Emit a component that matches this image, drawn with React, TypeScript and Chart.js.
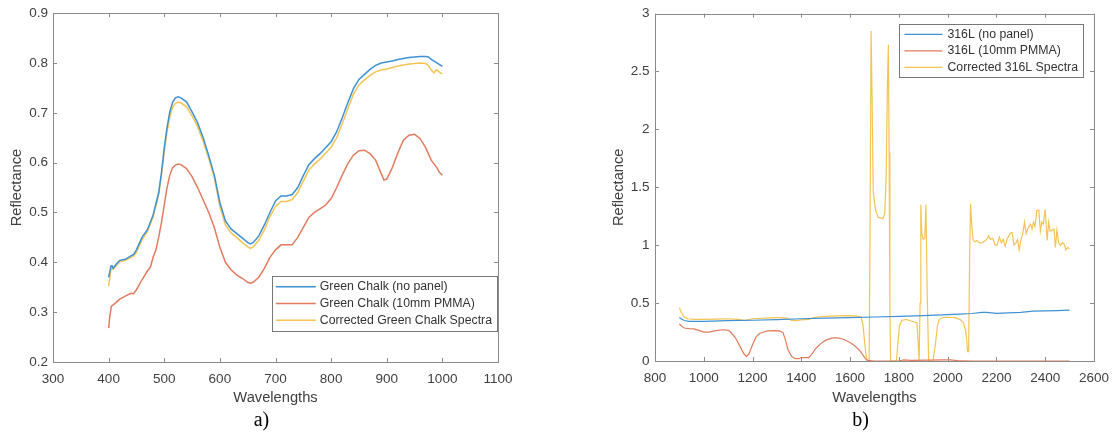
import React, { useEffect, useRef } from 'react';
import { Chart, registerables } from 'chart.js';

Chart.register(...registerables);

// ---------- Data: panel a) Green chalk ----------
const chalkNoPanelX = [400, 402, 404, 406, 408, 410, 415, 420, 430, 440, 445, 450, 460, 470, 480, 490, 495, 500, 505, 510, 515, 520, 525, 530, 540, 550, 560, 570, 580, 590, 600, 610, 620, 630, 640, 650, 655, 660, 670, 680, 690, 700, 710, 720, 730, 740, 750, 760, 770, 780, 790, 800, 810, 820, 830, 840, 850, 860, 870, 880, 890, 900, 910, 920, 930, 940, 950, 960, 970, 975, 980, 990, 1000];
const chalkNoPanelY = [0.370, 0.380, 0.392, 0.393, 0.388, 0.391, 0.398, 0.404, 0.406, 0.413, 0.416, 0.425, 0.450, 0.466, 0.495, 0.540, 0.580, 0.630, 0.670, 0.702, 0.721, 0.730, 0.732, 0.730, 0.722, 0.702, 0.680, 0.650, 0.614, 0.575, 0.520, 0.483, 0.467, 0.458, 0.449, 0.440, 0.437, 0.440, 0.453, 0.475, 0.500, 0.523, 0.533, 0.533, 0.536, 0.550, 0.574, 0.596, 0.608, 0.618, 0.630, 0.642, 0.662, 0.690, 0.720, 0.748, 0.767, 0.777, 0.787, 0.795, 0.800, 0.802, 0.804, 0.807, 0.809, 0.811, 0.812, 0.813, 0.813, 0.812, 0.807, 0.800, 0.793];

const chalkPmmaX = [400, 402, 405, 410, 420, 430, 440, 445, 450, 460, 470, 475, 480, 485, 490, 495, 500, 505, 510, 515, 520, 525, 530, 540, 550, 560, 570, 580, 590, 600, 610, 620, 630, 640, 650, 655, 660, 670, 680, 690, 700, 710, 720, 730, 740, 750, 760, 770, 780, 790, 800, 810, 820, 830, 840, 850, 860, 870, 880, 890, 895, 900, 910, 920, 930, 940, 950, 960, 970, 980, 990, 995, 1000];
const chalkPmmaY = [0.268, 0.290, 0.312, 0.316, 0.326, 0.332, 0.338, 0.337, 0.345, 0.365, 0.383, 0.390, 0.410, 0.425, 0.450, 0.480, 0.515, 0.550, 0.575, 0.590, 0.595, 0.597, 0.596, 0.588, 0.572, 0.550, 0.525, 0.500, 0.470, 0.430, 0.400, 0.385, 0.375, 0.368, 0.360, 0.358, 0.360, 0.370, 0.388, 0.410, 0.425, 0.435, 0.435, 0.435, 0.450, 0.470, 0.490, 0.500, 0.507, 0.515, 0.528, 0.550, 0.575, 0.598, 0.615, 0.624, 0.625, 0.618, 0.605, 0.578, 0.565, 0.567, 0.590, 0.620, 0.645, 0.655, 0.657, 0.648, 0.630, 0.605, 0.590, 0.580, 0.575];

const chalkCorrectedX = [400, 402, 404, 406, 408, 410, 415, 420, 430, 440, 445, 450, 460, 470, 480, 490, 495, 500, 505, 510, 515, 520, 525, 530, 540, 550, 560, 570, 580, 590, 600, 610, 620, 630, 640, 650, 655, 660, 670, 680, 690, 700, 710, 720, 730, 740, 750, 760, 770, 780, 790, 800, 810, 820, 830, 840, 850, 860, 870, 880, 890, 900, 910, 920, 930, 940, 950, 960, 970, 975, 980, 985, 988, 990, 995, 1000];
const chalkCorrectedY = [0.352, 0.368, 0.385, 0.388, 0.386, 0.388, 0.395, 0.401, 0.404, 0.410, 0.413, 0.420, 0.445, 0.462, 0.492, 0.536, 0.575, 0.622, 0.662, 0.692, 0.711, 0.719, 0.721, 0.720, 0.712, 0.694, 0.672, 0.643, 0.608, 0.570, 0.512, 0.475, 0.459, 0.450, 0.440, 0.431, 0.428, 0.431, 0.444, 0.465, 0.492, 0.512, 0.522, 0.522, 0.526, 0.540, 0.563, 0.585, 0.597, 0.607, 0.619, 0.631, 0.650, 0.678, 0.708, 0.737, 0.756, 0.766, 0.775, 0.782, 0.786, 0.788, 0.791, 0.794, 0.796, 0.798, 0.799, 0.800, 0.799, 0.795, 0.786, 0.780, 0.785, 0.786, 0.781, 0.778];

// ---------- Data: panel b) 316L ----------
const steelNoPanelX = [900, 910, 920, 940, 1000, 1100, 1200, 1300, 1400, 1500, 1600, 1700, 1800, 1900, 2000, 2050, 2100, 2140, 2160, 2200, 2250, 2300, 2350, 2400, 2450, 2500];
const steelNoPanelY = [0.375, 0.360, 0.350, 0.342, 0.343, 0.348, 0.352, 0.358, 0.365, 0.370, 0.375, 0.380, 0.385, 0.392, 0.400, 0.405, 0.410, 0.420, 0.420, 0.412, 0.415, 0.420, 0.430, 0.432, 0.435, 0.440];

const steelPmmaX = [900, 910, 920, 940, 960, 980, 1000, 1020, 1050, 1080, 1100, 1110, 1130, 1150, 1165, 1175, 1185, 1200, 1215, 1230, 1260, 1290, 1310, 1325, 1335, 1345, 1360, 1375, 1390, 1400, 1430, 1440, 1460, 1480, 1500, 1530, 1550, 1570, 1600, 1620, 1640, 1660, 1670, 1700, 1800, 1820, 1850, 1990, 2010, 2040, 2100, 2500];
const steelPmmaY = [0.320, 0.300, 0.285, 0.280, 0.278, 0.265, 0.250, 0.250, 0.262, 0.270, 0.265, 0.250, 0.200, 0.120, 0.060, 0.040, 0.060, 0.140, 0.210, 0.240, 0.260, 0.262, 0.260, 0.245, 0.180, 0.100, 0.040, 0.020, 0.020, 0.030, 0.030, 0.050, 0.110, 0.150, 0.180, 0.200, 0.200, 0.190, 0.160, 0.130, 0.090, 0.030, 0.005, 0.000, 0.000, 0.010, 0.005, 0.010, 0.010, 0.003, 0.000, 0.000];

const steelCorrectedX = [900, 910, 920, 935, 960, 1000, 1050, 1100, 1140, 1165, 1180, 1200, 1250, 1300, 1320, 1340, 1360, 1380, 1400, 1430, 1450, 1480, 1500, 1550, 1600, 1630, 1645, 1652, 1658, 1665, 1672, 1678, 1682, 1686, 1690, 1695, 1705, 1715, 1735, 1742, 1748, 1753, 1757, 1760, 1763, 1766, 1790, 1796, 1802, 1812, 1830, 1850, 1866, 1874, 1878, 1883, 1887, 1890, 1894, 1900, 1906, 1911, 1916, 1922, 1940, 1950, 1958, 1965, 1980, 2000, 2030, 2050, 2065, 2075, 2082, 2086, 2090, 2094, 2098, 2104, 2110, 2120, 2130, 2140, 2155, 2163, 2168, 2175, 2185, 2195, 2203, 2212, 2220, 2228, 2236, 2243, 2255, 2264, 2272, 2280, 2287, 2293, 2300, 2308, 2315, 2322, 2330, 2340, 2346, 2352, 2358, 2366, 2374, 2380, 2386, 2392, 2400, 2408, 2414, 2420, 2428, 2436, 2442, 2448, 2455, 2462, 2470, 2478, 2485, 2492, 2500];
const steelCorrectedY = [0.460, 0.410, 0.380, 0.365, 0.360, 0.360, 0.362, 0.365, 0.360, 0.352, 0.355, 0.365, 0.370, 0.375, 0.375, 0.370, 0.350, 0.348, 0.355, 0.360, 0.375, 0.383, 0.385, 0.390, 0.392, 0.388, 0.380, 0.320, 0.200, 0.050, 0.000, 0.000, 1.200, 2.850, 2.300, 1.450, 1.300, 1.240, 1.230, 1.270, 1.600, 2.400, 2.730, 1.800, 0.500, 0.000, 0.000, 0.150, 0.300, 0.350, 0.360, 0.345, 0.335, 0.330, 0.200, 0.000, 0.500, 1.350, 1.100, 1.050, 1.060, 1.350, 0.600, 0.000, 0.000, 0.150, 0.300, 0.360, 0.375, 0.378, 0.375, 0.360, 0.330, 0.250, 0.080, 0.080, 0.900, 1.360, 1.200, 1.050, 1.030, 1.040, 1.020, 1.020, 1.040, 1.060, 1.080, 1.050, 1.060, 1.000, 1.000, 1.070, 1.020, 1.050, 0.990, 1.050, 1.100, 1.110, 1.000, 1.020, 1.050, 0.960, 1.040, 1.100, 1.200, 1.100, 1.150, 1.180, 1.140, 1.200, 1.160, 1.300, 1.300, 1.120, 1.200, 1.180, 1.310, 1.040, 1.200, 1.120, 1.130, 1.140, 0.980, 1.130, 1.020, 1.000, 1.020, 1.010, 0.960, 0.980, 0.970];

// ---------- Labels ----------
const chalkLabels = ['Green Chalk (no panel)', 'Green Chalk (10mm PMMA)', 'Corrected Green Chalk Spectra'];
const steelLabels = ['316L (no panel)', '316L (10mm PMMA)', 'Corrected 316L Spectra'];

// ---------- Styles ----------
const FONT = '"Liberation Sans", Arial, Helvetica, sans-serif';
const SERIF = '"Liberation Serif", "Times New Roman", serif';
const BLUE = 'rgb(62,146,212)';
const RED = 'rgb(226,124,94)';
const YELLOW = 'rgb(243,196,84)';
const TEXT = '#404040';
const AXIS = '#8a8a8a';

const toPoints = (xs: number[], ys: number[]) => xs.map((x, i) => ({ x, y: ys[i] }));

const framePlugin = {
  id: 'matlabFrame',
  afterDatasetsDraw(chart: any, _a: any, o: any) {
    const { ctx, chartArea: a, scales } = chart;
    const tl = o.tickLength;
    ctx.save();
    ctx.strokeStyle = o.color;
    ctx.lineWidth = 1;
    ctx.beginPath();
    for (const t of scales.x.ticks) {
      const px = Math.round(scales.x.getPixelForValue(t.value)) + 0.5;
      ctx.moveTo(px, a.bottom);
      ctx.lineTo(px, a.bottom - tl);
      ctx.moveTo(px, a.top);
      ctx.lineTo(px, a.top + tl);
    }
    for (const t of scales.y.ticks) {
      const py = Math.round(scales.y.getPixelForValue(t.value)) + 0.5;
      ctx.moveTo(a.left, py);
      ctx.lineTo(a.left + tl, py);
      ctx.moveTo(a.right, py);
      ctx.lineTo(a.right - tl, py);
    }
    ctx.stroke();
    ctx.strokeRect(Math.round(a.left) + 0.5, Math.round(a.top) + 0.5, Math.round(a.right - a.left), Math.round(a.bottom - a.top));
    ctx.restore();
  },
};

const boxLegendPlugin = {
  id: 'boxLegend',
  afterDraw(chart: any, _a: any, o: any) {
    const { ctx, chartArea: a } = chart;
    const ds = chart.data.datasets;
    ctx.save();
    ctx.font = `${o.fontSize}px ${FONT}`;
    const textW = Math.max(...ds.map((d: any) => ctx.measureText(d.label).width));
    const w = o.padLeft + o.lineLength + o.gap + textW + o.padRight;
    const h = o.padV * 2 + o.rowHeight * ds.length;
    const x2 = a.right - o.insetRight;
    const x1 = x2 - w;
    const y1 = o.anchor === 'top' ? a.top + o.insetY : a.bottom - o.insetY - h;
    ctx.fillStyle = '#ffffff';
    ctx.fillRect(x1, y1, w, h);
    ctx.strokeStyle = o.borderColor;
    ctx.lineWidth = 1;
    ctx.strokeRect(Math.round(x1) + 0.5, Math.round(y1) + 0.5, Math.round(w), Math.round(h));
    ds.forEach((d: any, i: number) => {
      const cy = y1 + o.padV + o.rowHeight * (i + 0.5);
      ctx.strokeStyle = d.borderColor;
      ctx.lineWidth = d.borderWidth;
      ctx.beginPath();
      ctx.moveTo(x1 + o.padLeft, cy);
      ctx.lineTo(x1 + o.padLeft + o.lineLength, cy);
      ctx.stroke();
      ctx.fillStyle = o.textColor;
      ctx.textAlign = 'left';
      ctx.textBaseline = 'middle';
      ctx.fillText(d.label, x1 + o.padLeft + o.lineLength + o.gap, cy);
    });
    ctx.restore();
  },
};

const captionPlugin = {
  id: 'caption',
  afterDraw(chart: any, _a: any, o: any) {
    const { ctx, chartArea: a } = chart;
    ctx.save();
    ctx.font = `${o.fontSize}px ${SERIF}`;
    ctx.fillStyle = '#000';
    ctx.textAlign = 'center';
    ctx.textBaseline = 'alphabetic';
    ctx.fillText(o.text, (a.left + a.right) / 2 + o.offsetX, o.baseline);
    ctx.restore();
  },
};

type PanelCfg = {
  series: { label: string; xs: number[]; ys: number[]; color: string }[];
  lineWidth: number;
  xMin: number; xMax: number; xStep: number;
  yMin: number; yMax: number; yStep: number;
  yAxisWidth: number; xAxisHeight: number; padRight: number;
  yTitlePad: number; yTickPad: number;
  legend: any; caption: string;
};

function makeConfig(p: PanelCfg): any {
  return {
    type: 'line',
    data: {
      datasets: p.series.map((s) => ({
        label: s.label,
        data: toPoints(s.xs, s.ys),
        borderColor: s.color,
        backgroundColor: s.color,
        borderWidth: p.lineWidth,
        pointRadius: 0,
        tension: 0,
        fill: false,
      })),
    },
    options: {
      responsive: false,
      animation: false,
      devicePixelRatio: 1,
      layout: { padding: { top: 11, right: p.padRight, bottom: 0, left: 0 } },
      plugins: {
        legend: { display: false },
        tooltip: { enabled: false },
        matlabFrame: { tickLength: 4, color: AXIS },
        boxLegend: p.legend,
        caption: { text: p.caption, fontSize: 20, offsetX: -14, baseline: 426 },
      },
      scales: {
        x: {
          type: 'linear',
          min: p.xMin,
          max: p.xMax,
          grid: { display: false, drawTicks: false },
          border: { display: false },
          ticks: {
            stepSize: p.xStep,
            autoSkip: false,
            maxRotation: 0,
            padding: 9,
            color: TEXT,
            font: { family: FONT, size: 13.5 },
            callback: (v: any) => String(v),
          },
          title: {
            display: true,
            text: 'Wavelengths',
            color: TEXT,
            font: { family: FONT, size: 14.7 },
            padding: { top: 0, bottom: 29 },
          },
          afterFit: (s: any) => { s.height = p.xAxisHeight; },
        },
        y: {
          type: 'linear',
          min: p.yMin,
          max: p.yMax,
          grid: { display: false, drawTicks: false },
          border: { display: false },
          ticks: {
            stepSize: p.yStep,
            autoSkip: false,
            padding: p.yTickPad,
            color: TEXT,
            font: { family: FONT, size: 13.5 },
            callback: (v: any) => String(Math.round(Number(v) * 10) / 10),
          },
          title: {
            display: true,
            text: 'Reflectance',
            color: TEXT,
            font: { family: FONT, size: 14.7 },
            padding: { top: p.yTitlePad, bottom: 0 },
          },
          afterFit: (s: any) => { s.width = p.yAxisWidth; },
        },
      },
    },
    plugins: [framePlugin, boxLegendPlugin, captionPlugin],
  };
}

const chalkPanel: PanelCfg = {
  series: [
    { label: chalkLabels[0], xs: chalkNoPanelX, ys: chalkNoPanelY, color: BLUE },
    { label: chalkLabels[1], xs: chalkPmmaX, ys: chalkPmmaY, color: RED },
    { label: chalkLabels[2], xs: chalkCorrectedX, ys: chalkCorrectedY, color: YELLOW },
  ],
  lineWidth: 1.5,
  xMin: 300, xMax: 1100, xStep: 100,
  yMin: 0.2, yMax: 0.9, yStep: 0.1,
  yAxisWidth: 53, xAxisHeight: 74, padRight: 61,
  yTitlePad: 8.2, yTickPad: 5,
  legend: { fontSize: 12.3, rowHeight: 16.7, padV: 2.5, padLeft: 4, lineLength: 40, gap: 4, padRight: 5, insetRight: 1, anchor: 'bottom', insetY: 31, borderColor: '#777', textColor: '#333' },
  caption: 'a)',
};

const steelPanel: PanelCfg = {
  series: [
    { label: steelLabels[0], xs: steelNoPanelX, ys: steelNoPanelY, color: BLUE },
    { label: steelLabels[1], xs: steelPmmaX, ys: steelPmmaY, color: RED },
    { label: steelLabels[2], xs: steelCorrectedX, ys: steelCorrectedY, color: YELLOW },
  ],
  lineWidth: 1.2,
  xMin: 800, xMax: 2600, xStep: 200,
  yMin: 0, yMax: 3, yStep: 0.5,
  yAxisWidth: 96, xAxisHeight: 75, padRight: 19,
  yTitlePad: 50.7, yTickPad: 5.5,
  legend: { fontSize: 12.3, rowHeight: 16.5, padV: 1.8, padLeft: 5, lineLength: 38, gap: 5, padRight: 5, insetRight: 11, anchor: 'top', insetY: 10.7, borderColor: '#777', textColor: '#333' },
  caption: 'b)',
};

function Panel({ cfg, left }: { cfg: PanelCfg; left: number }) {
  const ref = useRef<HTMLCanvasElement | null>(null);
  useEffect(() => {
    if (!ref.current) return;
    const chart = new Chart(ref.current, makeConfig(cfg));
    return () => chart.destroy();
  }, [cfg]);
  return (
    <div style={{ position: 'absolute', left, top: 0, width: 559, height: 436 }}>
      <canvas ref={ref} width={559} height={436} style={{ width: 559, height: 436, display: 'block' }} />
    </div>
  );
}

export default function App() {
  return (
    <div style={{ position: 'absolute', left: 0, top: 0, width: 1118, height: 436, background: '#fff' }}>
      <Panel cfg={chalkPanel} left={0} />
      <Panel cfg={steelPanel} left={559} />
    </div>
  );
}
